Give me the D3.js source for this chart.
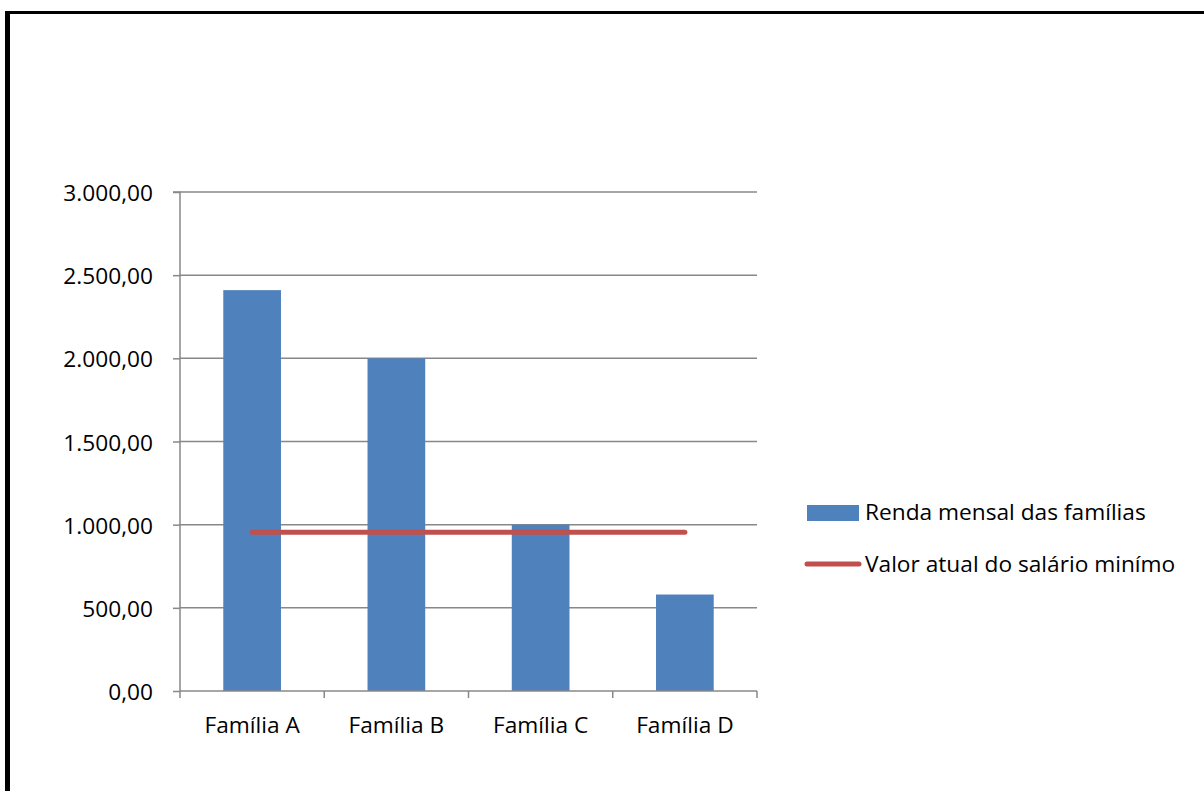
<!DOCTYPE html>
<html><head><meta charset="utf-8">
<script src="https://cdn.jsdelivr.net/npm/d3@7"></script>
<style>body{margin:0;background:#fff}svg{display:block}</style>
</head><body>
<script>
const categories = ["Família A", "Família B", "Família C", "Família D"];
const rendaMensal = [2410, 2000, 1000, 580];
const salarioMinimo = [954, 954, 954, 954];
const yTicks = [0, 500, 1000, 1500, 2000, 2500, 3000];
const seriesNames = ["Renda mensal das famílias", "Valor atual do salário minímo"];

const W = 1204, H = 791;
const svg = d3.select("body").append("svg").attr("width", W).attr("height", H);
const font = "'Open Sans', sans-serif";
const fs = 22.7;

// outer frame (top and left visible)
svg.append("line").attr("x1", 5).attr("x2", W).attr("y1", 12.5).attr("y2", 12.5).attr("stroke", "#000").attr("stroke-width", 3);
svg.append("line").attr("x1", 7.5).attr("x2", 7.5).attr("y1", 11).attr("y2", H).attr("stroke", "#000").attr("stroke-width", 5);

const x0 = 180, x1 = 757, yTop = 192, yBot = 691;
const x = d3.scaleBand().domain(categories).range([x0, x1]).paddingInner(0.6).paddingOuter(0.3);
const xc = d3.scalePoint().domain(categories).range([x0, x1]).padding(0.5);
const y = d3.scaleLinear().domain([0, 3000]).range([yBot, yTop]);
const fmt = v => d3.format(",.2f")(v).replace(/,/g, "X").replace(/\./g, ",").replace(/X/g, ".");

// gridlines
svg.append("g").selectAll("line").data(yTicks.filter(d => d > 0)).join("line")
  .attr("x1", x0).attr("x2", x1).attr("y1", d => y(d)).attr("y2", d => y(d))
  .attr("stroke", "#888").attr("stroke-width", 1.5);

// bars
svg.append("g").selectAll("rect").data(rendaMensal).join("rect")
  .attr("x", (d, i) => x(categories[i])).attr("width", x.bandwidth())
  .attr("y", d => y(d)).attr("height", d => yBot - y(d))
  .attr("fill", "#4F81BD");

// y axis
const yAxis = d3.axisLeft(y).tickValues(yTicks).tickFormat(fmt).tickSize(7).tickPadding(20);
const gy = svg.append("g").attr("transform", `translate(${x0},0)`).call(yAxis);
gy.select(".domain").attr("stroke", "#888").attr("stroke-width", 1.5).attr("d", `M-7,${yTop}H0V${yBot}`);
gy.selectAll(".tick line").attr("stroke", "#888").attr("stroke-width", 1.5);
gy.selectAll(".tick text").attr("font-family", font).attr("font-size", fs).attr("fill", "#000")
  .attr("dy", null).attr("y", 8.5);

// x axis
const xAxis = d3.axisBottom(x).tickSize(0).tickPadding(0);
const gx = svg.append("g").attr("transform", `translate(0,${yBot})`).call(xAxis);
gx.select(".domain").attr("stroke", "#888").attr("stroke-width", 1.5).attr("d", `M${x0},0H${x1}`);
gx.selectAll(".tick text").attr("font-family", font).attr("font-size", fs).attr("fill", "#000")
  .attr("dy", null).attr("y", 42);
const bounds = d3.range(categories.length + 1).map(i => x0 + i * (x1 - x0) / categories.length);
gx.append("g").selectAll("line").data(bounds).join("line")
  .attr("x1", d => d).attr("x2", d => d).attr("y1", 0).attr("y2", 7)
  .attr("stroke", "#888").attr("stroke-width", 1.5);

// line series
svg.append("path").datum(salarioMinimo)
  .attr("d", d3.line().x((d, i) => xc(categories[i])).y(d => y(d)))
  .attr("fill", "none").attr("stroke", "#C0504D").attr("stroke-width", 5).attr("stroke-linecap", "round");

// legend
const lg = svg.append("g").attr("font-family", font).attr("font-size", fs).attr("fill", "#000");
lg.append("rect").attr("x", 807).attr("y", 505).attr("width", 52).attr("height", 16).attr("fill", "#4F81BD");
lg.append("text").attr("x", 865).attr("y", 519.5).text(seriesNames[0]);
lg.append("line").attr("x1", 807).attr("x2", 859).attr("y1", 564).attr("y2", 564)
  .attr("stroke", "#C0504D").attr("stroke-width", 5).attr("stroke-linecap", "round");
lg.append("text").attr("x", 865).attr("y", 571.5).text(seriesNames[1]);
</script>
</body></html>
